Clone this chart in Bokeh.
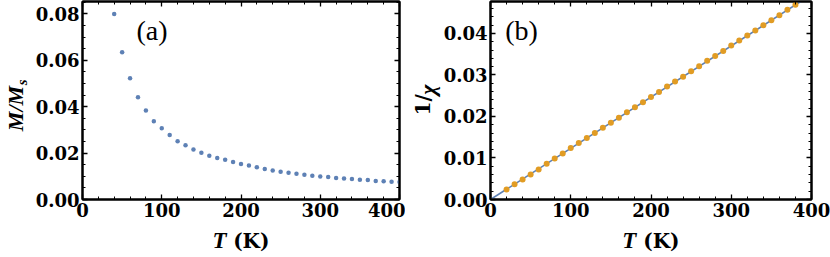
import math
from bokeh.plotting import figure
from bokeh.layouts import row
from bokeh.models import (LinearAxis, Label, Range1d, SingleIntervalTicker, FixedTicker,
                          NumeralTickFormatter, CustomJSTickFormatter)
from bokeh.embed import file_html
from bokeh.resources import INLINE

# ---- data: panel (a) ----
T_a = [40, 50, 60, 70, 80, 90, 100, 110, 120, 130, 140, 150, 160, 170, 180, 190,
       200, 210, 220, 230, 240, 250, 260, 270, 280, 290, 300, 310, 320, 330, 340,
       350, 360, 370, 380, 390, 400]
M_a = [0.0799, 0.0634, 0.0522, 0.0440, 0.0383, 0.0337, 0.0307, 0.0278, 0.0251,
       0.0234, 0.0215, 0.0201, 0.0189, 0.0179, 0.0171, 0.0162, 0.0153, 0.0146,
       0.0139, 0.0131, 0.0125, 0.0120, 0.0115, 0.0111, 0.0107, 0.0102, 0.0099,
       0.0097, 0.0093, 0.0090, 0.0088, 0.0085, 0.0084, 0.0080, 0.0079, 0.0076, 0.0075]

# ---- data: panel (b) ----
T_b = [20, 30, 40, 50, 60, 70, 80, 90, 100, 110, 120, 130, 140, 150, 160, 170, 180,
       190, 200, 210, 220, 230, 240, 250, 260, 270, 280, 290, 300, 310, 320, 330,
       340, 350, 360, 370, 380]
chi_b = [0.00240, 0.00370, 0.00480, 0.00600, 0.00720, 0.00860, 0.00985, 0.0111,
         0.0124, 0.0136, 0.0148, 0.0160, 0.0173, 0.0185, 0.0197, 0.0210, 0.0222,
         0.0234, 0.0247, 0.0259, 0.0272, 0.0284, 0.0296, 0.0309, 0.0321, 0.0334,
         0.0346, 0.0358, 0.0371, 0.0383, 0.0395, 0.0407, 0.0420, 0.0432, 0.0444,
         0.0457, 0.0469]
T_fit = [0, 400]
chi_fit = [0.0, 0.04935]

BLUE = "#5E81B5"
ORANGE = "#E19C24"
SERIF = "Liberation Serif"      # regular / bold-italic pieces
BOLD_SERIF = "DejaVu Serif"     # upright bold pieces
TICK_PX = "18px"
LABEL_PX = "22px"


def style_axis(ax, show_labels, fmt=None):
    ax.axis_line_color = "black"
    ax.axis_line_width = 2
    ax.major_tick_in = 5
    ax.major_tick_out = 0
    ax.minor_tick_in = 3
    ax.minor_tick_out = 0
    ax.major_tick_line_color = "black"
    ax.minor_tick_line_color = "black"
    ax.major_tick_line_width = 1.3
    ax.minor_tick_line_width = 1
    if show_labels:
        ax.major_label_text_font = BOLD_SERIF
        ax.major_label_text_font_style = "bold"
        ax.major_label_text_font_size = TICK_PX
        ax.major_label_text_color = "black"
        ax.major_label_standoff = 3
        ax.formatter = fmt
    else:
        ax.major_label_text_color = None
        ax.major_label_text_font_size = "1px"
        ax.major_label_standoff = 0


def text_axis(p, side, pos, text, font, size, style, standoff, vertical=False):
    """An axis used only to print one piece of an axis title."""
    ax = LinearAxis(ticker=FixedTicker(ticks=[pos], minor_ticks=[]),
                    formatter=CustomJSTickFormatter(code="return %r;" % text))
    ax.axis_line_color = None
    ax.major_tick_line_color = None
    ax.minor_tick_line_color = None
    ax.major_tick_in = 0
    ax.major_tick_out = 0
    ax.minor_tick_in = 0
    ax.minor_tick_out = 0
    ax.major_label_text_font = font
    ax.major_label_text_font_size = size
    ax.major_label_text_font_style = style
    ax.major_label_text_color = "black"
    ax.major_label_standoff = standoff
    if vertical:
        ax.major_label_orientation = "vertical"
    p.add_layout(ax, side)


def make_panel(width, bl, br, ymax, yint, yminor):
    p = figure(width=width, height=257, output_backend="svg", toolbar_location=None,
               x_range=Range1d(0, 400), y_range=Range1d(0, ymax),
               min_border_left=bl, min_border_right=br, min_border_top=1,
               min_border_bottom=58)
    p.xgrid.visible = False
    p.ygrid.visible = False
    p.outline_line_color = "black"
    p.outline_line_width = 2
    p.background_fill_color = "white"
    p.border_fill_color = "white"
    p.xaxis.ticker = SingleIntervalTicker(interval=100, num_minor_ticks=5)
    p.yaxis.ticker = SingleIntervalTicker(interval=yint, num_minor_ticks=yminor)
    style_axis(p.xaxis[0], True, NumeralTickFormatter(format="0"))
    style_axis(p.yaxis[0], True, NumeralTickFormatter(format="0.00"))
    top = LinearAxis(ticker=SingleIntervalTicker(interval=100, num_minor_ticks=5))
    right = LinearAxis(ticker=SingleIntervalTicker(interval=yint, num_minor_ticks=yminor))
    style_axis(top, False)
    style_axis(right, False)
    p.add_layout(top, "above")
    p.add_layout(right, "right")
    # x-axis title: italic T followed by upright (K)
    text_axis(p, "below", 173, "T", SERIF, "23px", "bold italic", 8)
    text_axis(p, "below", 213, "(K)", BOLD_SERIF, "20px", "bold", -27)
    return p


# ---- panel (a) ----
p1 = make_panel(405, 79, 6, 0.0853, 0.02, 4)
p1.scatter(T_a, M_a, size=4.5, color=BLUE, line_color=None)
text_axis(p1, "left", 0.0505, "s", SERIF, "15px", "bold italic", 2, vertical=True)
text_axis(p1, "left", 0.0392, "M/M", SERIF, LABEL_PX, "bold italic", -17, vertical=True)
p1.add_layout(Label(x=69.5, y=169, x_units="screen", y_units="screen", text="(a)",
                    text_font=SERIF, text_font_size="28px", text_color="black",
                    text_align="center", text_baseline="middle"))

# ---- panel (b) ----
p2 = make_panel(425, 85, 19, 0.0477, 0.01, 5)
p2.line(T_fit, chi_fit, line_color=BLUE, line_width=1.6)
p2.scatter(T_b, chi_b, size=6, color=ORANGE, line_color=None)
text_axis(p2, "left", 0.0265, "\u03c7", SERIF, LABEL_PX, "bold italic", 1, vertical=True)
text_axis(p2, "left", 0.0228, "1/", BOLD_SERIF, "20px", "bold", -24, vertical=True)
p2.add_layout(Label(x=31, y=169, x_units="screen", y_units="screen", text="(b)",
                    text_font=SERIF, text_font_size="28px", text_color="black",
                    text_align="center", text_baseline="middle"))

layout = row(p1, p2)
open("out.html", "w").write(file_html(layout, INLINE))
